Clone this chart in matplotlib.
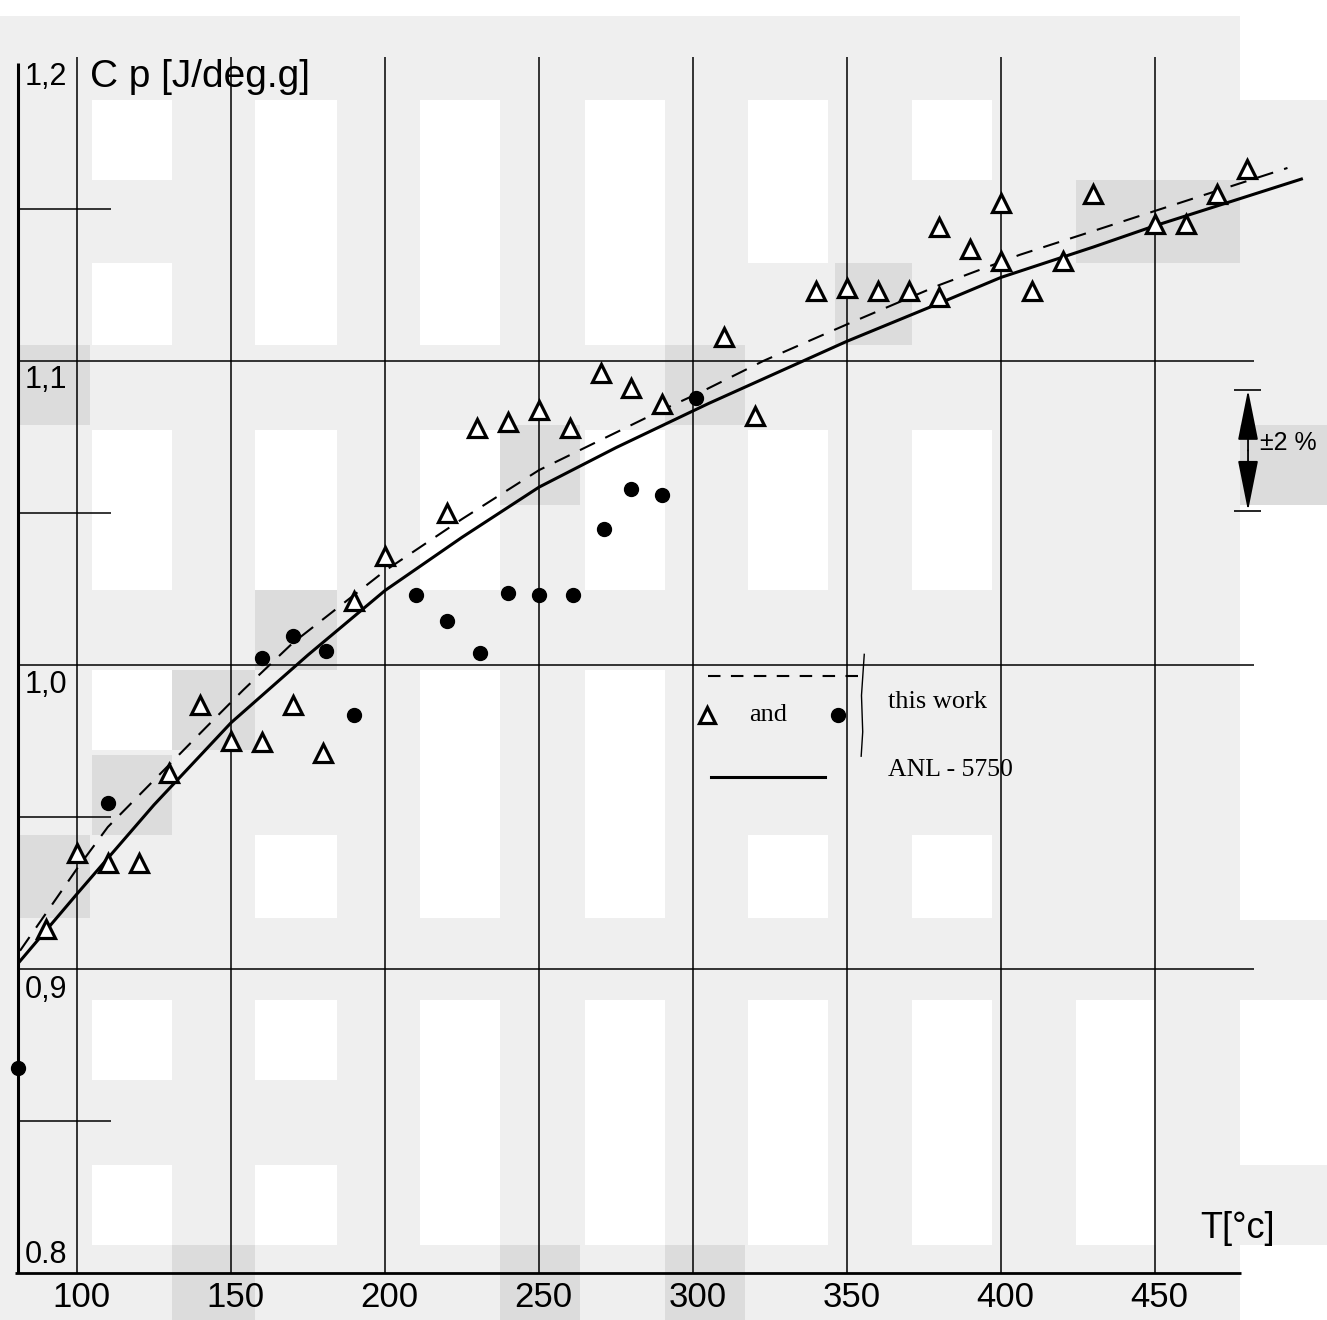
import matplotlib
matplotlib.use("Agg")
import matplotlib.pyplot as plt
from matplotlib.patches import Rectangle

# ---- data ----
# open triangles (this work)
tri_T = [90, 100, 110, 120, 130, 140, 150, 160, 170, 180, 190, 200, 220, 230, 240,
         250, 260, 270, 280, 290, 310, 320, 340, 350, 360, 370, 380, 380, 390, 400,
         400, 410, 420, 430, 450, 460, 470, 480]
tri_cp = [0.913, 0.938, 0.935, 0.935, 0.9645, 0.987, 0.975, 0.9747, 0.987, 0.971,
          1.021, 1.036, 1.050, 1.078, 1.080, 1.084, 1.078, 1.096, 1.091, 1.086,
          1.108, 1.082, 1.123, 1.124, 1.123, 1.123, 1.144, 1.121, 1.137, 1.152,
          1.133, 1.123, 1.133, 1.155, 1.145, 1.145, 1.155, 1.163]

# filled dots (this work)
dot_T = [81, 110, 160, 170, 181, 190, 210, 220, 231, 240, 250, 261, 271, 280, 290, 301]
dot_cp = [0.8674, 0.9546, 1.0023, 1.0095, 1.0046, 0.9836, 1.023, 1.0145, 1.004,
          1.0237, 1.023, 1.023, 1.0447, 1.058, 1.056, 1.0878]

# dashed fit (this work)
dash_T = [81.5, 100, 110, 142, 154, 170, 200, 225, 250, 290, 302, 323, 351, 380, 406,
          431, 451, 493]
dash_cp = [0.906, 0.933, 0.9467, 0.9796, 0.9918, 1.0072, 1.031, 1.048, 1.0641, 1.0839,
           1.0895, 1.1001, 1.1125, 1.125, 1.1349, 1.1431, 1.1497, 1.1635]

# solid curve (ANL-5750)
anl_T = [81, 100, 125, 150, 175, 200, 225, 250, 275, 305, 350, 380, 400, 430, 450, 498]
anl_cp = [0.902, 0.9247, 0.954, 0.981, 1.0033, 1.0245, 1.042, 1.0585, 1.0715, 1.086,
          1.1065, 1.119, 1.1275, 1.1375, 1.1445, 1.160]

x_ticks = [100, 150, 200, 250, 300, 350, 400, 450]
x_tick_labels = ["100", "150", "200", "250", "300", "350", "400", "450"]
y_grid = [0.9, 1.0, 1.1]
y_half = [0.85, 0.95, 1.05, 1.15]
y_tick_labels = {"1,2": 1.1934, "1,1": 1.0938, "1,0": 0.9934, "0,9": 0.893, "0.8": 0.806}

W, H = 1327, 1320
fig = plt.figure(figsize=(W / 100, H / 100), dpi=100)
fig.patch.set_facecolor("#efefef")

# scan background: white and darker blocks (pixel boxes x0, y0, x1, y1)
white_blocks = [
    (0, 0, 1327, 16),
    (92, 100, 172, 180), (92, 263, 172, 345), (92, 430, 172, 590), (92, 670, 172, 750),
    (92, 1000, 172, 1080), (92, 1165, 172, 1245),
    (255, 100, 337, 345), (255, 430, 337, 590), (255, 835, 337, 918),
    (255, 1000, 337, 1080), (255, 1165, 337, 1245),
    (420, 100, 500, 345), (420, 430, 500, 590), (420, 670, 500, 918), (420, 1000, 500, 1245),
    (585, 100, 665, 345), (585, 430, 665, 590), (585, 670, 665, 918), (585, 1000, 665, 1245),
    (748, 100, 828, 263), (748, 430, 828, 590), (748, 835, 828, 918), (748, 1000, 828, 1245),
    (912, 100, 992, 180), (912, 430, 992, 590), (912, 835, 992, 918), (912, 1000, 992, 1245),
    (1076, 1000, 1156, 1245),
    (1240, 0, 1327, 100), (1240, 505, 1327, 920), (1240, 1000, 1327, 1165),
    (1240, 1245, 1327, 1320),
]
dark_blocks = [
    (20, 345, 90, 425), (500, 425, 580, 505), (255, 590, 337, 670), (92, 755, 172, 835),
    (20, 835, 90, 918), (172, 670, 255, 750), (1076, 180, 1240, 263), (1240, 425, 1327, 505),
    (835, 263, 912, 345), (665, 345, 745, 425),
    (172, 1245, 255, 1320), (500, 1245, 580, 1320), (665, 1245, 745, 1320),
]
for boxes, col in ((white_blocks, "white"), (dark_blocks, "#dcdcdc")):
    for x0, y0, x1, y1 in boxes:
        fig.patches.append(Rectangle((x0 / W, 1 - y1 / H), (x1 - x0) / W, (y1 - y0) / H,
                                     transform=fig.transFigure, facecolor=col,
                                     edgecolor="none", zorder=0))

ax = fig.add_axes([0, 0, 1, 1])
ax.set_zorder(2)
ax.patch.set_alpha(0)
ax.set_xlim(75.0, 505.84)
ax.set_ylim(0.78454, 1.21875)
ax.axis("off")

# grid of the paper chart
ax.vlines(x_ticks, 0.8, 1.2, color="black", lw=1.1)
ax.vlines(80.8, 0.8, 1.198, color="black", lw=2.2)
ax.hlines(y_grid, 80.8, 482, color="black", lw=1.1)
ax.hlines(y_half, 80.8, 111, color="black", lw=1.1)
ax.hlines(0.8, 80, 478, color="black", lw=2.0)

# curves
ax.plot(anl_T, anl_cp, color="black", lw=2.2, solid_capstyle="butt",
        solid_joinstyle="round")
ax.plot(dash_T, dash_cp, color="black", lw=1.5, linestyle=(0, (8, 5.5)))

# data points
ax.plot(tri_T, tri_cp, linestyle="none", marker="^", ms=13, mfc="white",
        mec="black", mew=2.3)
ax.plot(dot_T, dot_cp, linestyle="none", marker="o", ms=10, mfc="black", mec="black")

sans = ["Liberation Sans", "DejaVu Sans"]
serif = ["Liberation Serif", "DejaVu Serif"]

for lab, x in zip(x_tick_labels, x_ticks):
    ax.text(x + 1.5, 0.7918, lab, ha="center", va="center", fontsize=25, family=sans)
for lab, y in y_tick_labels.items():
    ax.text(83, y, lab, ha="left", va="center", fontsize=22, family=sans)

ax.text(104.2, 1.1934, "C p [J/deg.g]", ha="left", va="center", fontsize=28,
        family=sans)
ax.text(464.6, 0.8148, "T[°c]", ha="left", va="center", fontsize=26, family=sans)

# +-2 % marker
ax.hlines([1.0905, 1.0507], 475.8, 484.5, color="black", lw=1.2)
head = dict(arrowstyle="-|>,head_width=0.4,head_length=2.0", mutation_scale=16,
            color="black", lw=1.3, shrinkA=0, shrinkB=0)
ax.annotate("", xy=(480.2, 1.0905), xytext=(480.2, 1.0706), arrowprops=head)
ax.annotate("", xy=(480.2, 1.0507), xytext=(480.2, 1.0706), arrowprops=head)
ax.text(484.0, 1.073, "±2 %", ha="left", va="center", fontsize=18, family=sans)

# legend drawn on the chart
ax.plot([305, 354], [0.9964, 0.9964], color="black", lw=1.5, linestyle=(0, (6, 5)))
ax.plot([304.5], [0.9836], linestyle="none", marker="^", ms=12, mfc="white",
        mec="black", mew=2.3)
ax.plot([347], [0.9836], linestyle="none", marker="o", ms=10, color="black")
ax.text(324.4, 0.9836, "and", ha="center", va="center", fontsize=19, family=serif)
ax.plot([306, 343], [0.963, 0.963], color="black", lw=2.2)
ax.plot([355.6, 354.7, 355.1, 354.6], [1.0035, 0.99, 0.978, 0.970], color="black", lw=1.0)
ax.text(363.3, 0.9878, "this work", ha="left", va="center", fontsize=19, family=serif)
ax.text(363.3, 0.9655, "ANL - 5750", ha="left", va="center", fontsize=18.5, family=serif)

fig.savefig("out.png", dpi=100, facecolor=fig.get_facecolor())
